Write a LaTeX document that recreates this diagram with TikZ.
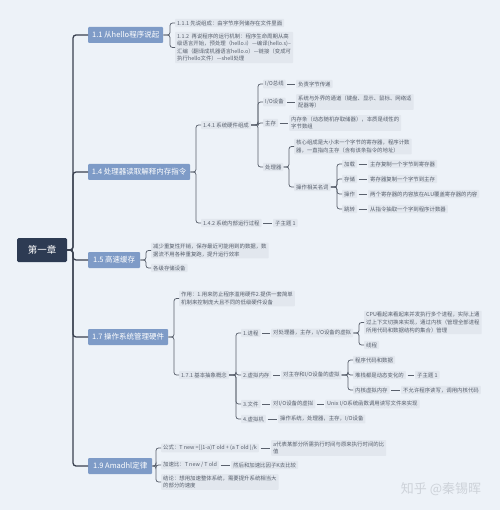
\documentclass[tikz,border=0pt]{standalone}
\usepackage{fontspec}
\setmainfont{Noto Sans CJK SC}
\usepackage{xcolor}
\definecolor{pagebg}{HTML}{EDF2F8}
\definecolor{rootblue}{HTML}{2D3B53}
\definecolor{topicblue}{HTML}{7E9BC7}
\definecolor{leafbg}{HTML}{E2E7EE}
\definecolor{leaftext}{HTML}{58606D}
\definecolor{linegray}{HTML}{5A616D}
\definecolor{trunkgray}{HTML}{3A4150}
\definecolor{markgray}{HTML}{CDD2D9}
\usetikzlibrary{calc}

\begin{document}
\begin{tikzpicture}[x=1pt,y=-1pt,
  root/.style={fill=rootblue,text=white,font=\fontsize{9.5}{11}\selectfont,
               minimum width=50pt,minimum height=24pt,rounded corners=1.5pt},
  topic/.style={fill=topicblue,text=white,font=\fontsize{7.5}{9}\selectfont,
                anchor=west,minimum height=16pt,inner xsep=3pt,rounded corners=1pt},
  leaf/.style={fill=leafbg,text=leaftext,font=\fontsize{5.4}{7.6}\selectfont,
               anchor=west,align=left,inner xsep=2pt,inner ysep=1.6pt,rounded corners=0.8pt},
  link/.style={draw=linegray,line width=0.75pt,rounded corners=2.5pt,
               to path={-- ($(\tikztostart -| \tikztotarget)+(-#1,0)$) |- (\tikztotarget)}},
  link/.default=5,
  trunk/.style={link=15,draw=trunkgray,line width=1.3pt,rounded corners=3pt},
  pair/.style={draw=linegray,line width=0.75pt,shorten <=1.5pt,shorten >=1.5pt}]
  \fill[pagebg] (0,0) rectangle (500,510);
  \useasboundingbox (0,0) rectangle (500,510);

  % root and main topics
  \node[root] (ch1) at (42,250) {第一章};
  \node[topic,minimum width=75pt] (t11) at (88,35) {1.1 从hello程序说起};
  \node[topic,minimum width=102pt] (t14) at (88,172) {1.4 处理器读取解释内存指令};
  \node[topic,minimum width=52pt] (t15) at (88,260) {1.5 高速缓存};
  \node[topic,minimum width=80pt] (t17) at (88,337) {1.7 操作系统管理硬件};
  \node[topic,minimum width=64pt] (t19) at (88,466) {1.9 Amadhl定律};

  % 1.1
  \node[leaf] (n111) at (175,23) {1.1.1 先说组成：由字节序列储存在文件里面};
  \node[leaf] (n112) at (175,47.5)
    {1.1.2 \ 再说程序的运行机制：程序生命周期从高\\
     级语言开始，预处理（hello.i）—编译(hello.s)–\\
     汇编（翻译成机器语言hello.o）—链接（变成可\\
     执行hello文件）—shell处理};

  % 1.4
  \node[leaf] (n141) at (201,125) {1.4.1 系统硬件组成};
  \node[leaf] (n142) at (201,223) {1.4.2 系统内部运行过程};
  \node[leaf] (n142a) at (273,223) {子主题 1};
  \node[leaf] (iobus) at (263,84) {I/O总线};
  \node[leaf] (iobusd) at (296,84) {负责字节传递};
  \node[leaf] (iodev) at (263,102) {I/O设备};
  \node[leaf] (iodevd) at (296,102) {系统与外界的通道（键盘、显示、鼠标、网络适\\配器等）};
  \node[leaf] (mem) at (263,123) {主存};
  \node[leaf] (memd) at (289,123) {内存条（动态随机存取储器），本质是线性的\\字节数组};
  \node[leaf] (cpu) at (263,167) {处理器};
  \node[leaf] (cpud) at (294,146.5) {核心组成是大小未一个字节的寄存器，程序计数\\器，一直指向主存（含有该条指令的地址）};
  \node[leaf] (cpuops) at (294,187) {操作相关名词};
  \node[leaf] (load) at (342,164) {加载};
  \node[leaf] (loadd) at (368,164) {主存复制一个字节到寄存器};
  \node[leaf] (store) at (342,179) {存储};
  \node[leaf] (stored) at (368,179) {寄存器复制一个字节到主存};
  \node[leaf] (alu) at (342,194) {操作};
  \node[leaf] (alud) at (368,194) {两个寄存器的内容放在ALU覆盖寄存器的内容};
  \node[leaf] (jump) at (342,209) {跳转};
  \node[leaf] (jumpd) at (368,209) {从指令抽取一个字到程序计数器};

  % 1.5
  \node[leaf] (n15a) at (151,250.5) {减少重复性开销，保存最近可能用到的数据，数\\据流不用各种重复跑，提升运行效率};
  \node[leaf] (n15b) at (151,268) {各级存储设备};

  % 1.7
  \node[leaf] (n17a) at (179,298.5) {作用：1.用来防止程序滥用硬件2.提供一套简单\\机制来控制庞大且不同的低级硬件设备};
  \node[leaf] (n171) at (179,375) {1.7.1 基本抽象概念};
  \node[leaf] (proc) at (241,333) {1.进程};
  \node[leaf] (procd) at (271,333) {对处理器，主存，I/O设备的虚拟};
  \node[leaf] (procx) at (364,322.5)
    {CPU看起来看起来并发执行多个进程，实际上通\\
     过上下文切换来实现，通过内核（管理全部进程\\
     所用代码和数据结构的集合）管理};
  \node[leaf] (thread) at (364,345) {线程};
  \node[leaf] (vm) at (241,375) {2.虚拟内存};
  \node[leaf] (vmd) at (281,375) {对主存和I/O设备的虚拟};
  \node[leaf] (vmcode) at (353,360) {程序代码和数据};
  \node[leaf] (vmheap) at (353,375) {堆栈都是动态变化的};
  \node[leaf] (vmheapd) at (415,375) {子主题 1};
  \node[leaf] (vmkern) at (353,390) {内核虚拟内存};
  \node[leaf] (vmkernd) at (401,390) {不允许程序读写，调用内核代码};
  \node[leaf] (file) at (241,404) {3.文件};
  \node[leaf] (filed) at (271,404) {对I/O设备的虚拟};
  \node[leaf] (filex) at (325,404) {Unix I/O系统函数调用读写文件来实现};
  \node[leaf] (vmach) at (241,419) {4.虚拟机};
  \node[leaf] (vmachd) at (278,419) {操作系统，处理器，主存，I/O设备};

  % 1.9
  \node[leaf] (n19a) at (161,448) {公式：T new =[(1-a)T old + (a T old )/k};
  \node[leaf] (n19ad) at (271,448) {a代表某部分所需执行时间与原来执行时间的比\\值};
  \node[leaf] (n19b) at (161,465) {加速比：T new / T old};
  \node[leaf] (n19bd) at (231,465) {然后和加速比因子K去比较};
  \node[leaf] (n19c) at (161,482) {结论：想用加速整体系统，需要提升系统相当大\\的部分的速度};

  \node[font=\fontsize{13}{15}\selectfont,text=markgray] (mark) at (441,489) {知乎 @秦锡晖};

  % trunk
  \draw[trunk] (ch1.east) to (t11.west);
  \draw[trunk] (ch1.east) to (t14.west);
  \draw[trunk] (ch1.east) to (t15.west);
  \draw[trunk] (ch1.east) to (t17.west);
  \draw[trunk] (ch1.east) to (t19.west);

  % brackets
  \draw[link] (t11.east) to (n111.west);
  \draw[link] (t11.east) to (n112.west);
  \draw[link] (t14.east) to (n141.west);
  \draw[link] (t14.east) to (n142.west);
  \draw[link] (n141.east) to (iobus.west);
  \draw[link] (n141.east) to (iodev.west);
  \draw[link] (n141.east) to (mem.west);
  \draw[link] (n141.east) to (cpu.west);
  \draw[link] (cpu.east) to (cpud.west);
  \draw[link] (cpu.east) to (cpuops.west);
  \draw[link] (cpuops.east) to (load.west);
  \draw[link] (cpuops.east) to (store.west);
  \draw[link] (cpuops.east) to (alu.west);
  \draw[link] (cpuops.east) to (jump.west);
  \draw[link] (t15.east) to (n15a.west);
  \draw[link] (t15.east) to (n15b.west);
  \draw[link] (t17.east) to (n17a.west);
  \draw[link] (t17.east) to (n171.west);
  \draw[link] (n171.east) to (proc.west);
  \draw[link] (n171.east) to (vm.west);
  \draw[link] (n171.east) to (file.west);
  \draw[link] (n171.east) to (vmach.west);
  \draw[link] (procd.east) to (procx.west);
  \draw[link] (procd.east) to (thread.west);
  \draw[link] (vmd.east) to (vmcode.west);
  \draw[link] (vmd.east) to (vmheap.west);
  \draw[link] (vmd.east) to (vmkern.west);
  \draw[link] (t19.east) to (n19a.west);
  \draw[link] (t19.east) to (n19b.west);
  \draw[link] (t19.east) to (n19c.west);

  % single links
  \draw[pair] (n142) -- (n142a);
  \draw[pair] (iobus) -- (iobusd);
  \draw[pair] (iodev) -- (iodevd);
  \draw[pair] (mem) -- (memd);
  \draw[pair] (load) -- (loadd);
  \draw[pair] (store) -- (stored);
  \draw[pair] (alu) -- (alud);
  \draw[pair] (jump) -- (jumpd);
  \draw[pair] (proc) -- (procd);
  \draw[pair] (vm) -- (vmd);
  \draw[pair] (vmheap) -- (vmheapd);
  \draw[pair] (vmkern) -- (vmkernd);
  \draw[pair] (file) -- (filed);
  \draw[pair] (filed) -- (filex);
  \draw[pair] (vmach) -- (vmachd);
  \draw[pair] (n19a) -- (n19ad);
  \draw[pair] (n19b) -- (n19bd);
\end{tikzpicture}
\end{document}
